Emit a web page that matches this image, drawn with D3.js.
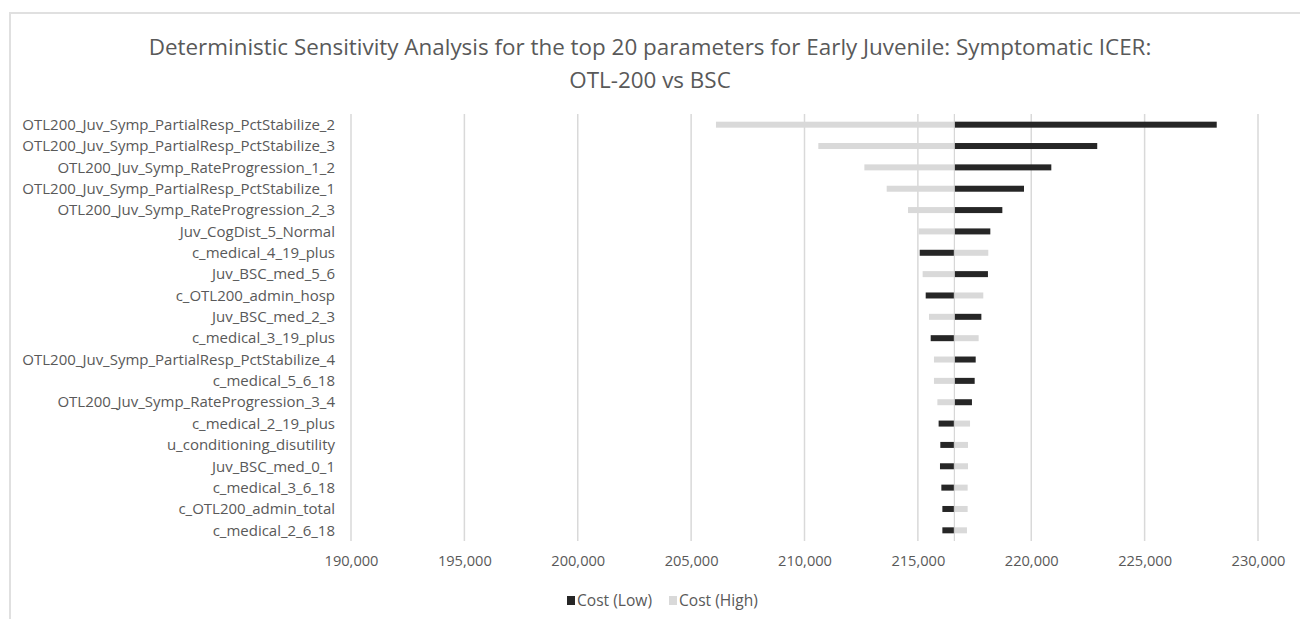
<!DOCTYPE html>
<html><head><meta charset="utf-8">
<script src="https://cdn.jsdelivr.net/npm/d3@7"></script>
<style>body{margin:0;background:#fff}svg{display:block}</style>
</head><body>
<svg id="c" width="1300" height="619"></svg>
<script>
const categories = [
 "OTL200_Juv_Symp_PartialResp_PctStabilize_2",
 "OTL200_Juv_Symp_PartialResp_PctStabilize_3",
 "OTL200_Juv_Symp_RateProgression_1_2",
 "OTL200_Juv_Symp_PartialResp_PctStabilize_1",
 "OTL200_Juv_Symp_RateProgression_2_3",
 "Juv_CogDist_5_Normal",
 "c_medical_4_19_plus",
 "Juv_BSC_med_5_6",
 "c_OTL200_admin_hosp",
 "Juv_BSC_med_2_3",
 "c_medical_3_19_plus",
 "OTL200_Juv_Symp_PartialResp_PctStabilize_4",
 "c_medical_5_6_18",
 "OTL200_Juv_Symp_RateProgression_3_4",
 "c_medical_2_19_plus",
 "u_conditioning_disutility",
 "Juv_BSC_med_0_1",
 "c_medical_3_6_18",
 "c_OTL200_admin_total",
 "c_medical_2_6_18"
];
const baseValue = 216607;
const costLow  = [228180,222910,220885,219680,218725,218195,215080,218090,215345,217800,215565,217550,217505,217385,215915,215990,215975,216035,216080,216080];
const costHigh = [206095,210610,212640,213625,214565,215035,218105,215210,217885,215490,217680,215710,215710,215860,217300,217210,217210,217195,217195,217165];
const xTicks = [190000,195000,200000,205000,210000,215000,220000,225000,230000];
const seriesNames = ["Cost (Low)","Cost (High)"];
const titleLines = ["Deterministic Sensitivity Analysis for the top 20 parameters for Early Juvenile: Symptomatic ICER:","OTL-200 vs BSC"];

const svg = d3.select("#c");
const FONT = "'Open Sans', 'DejaVu Sans', sans-serif";
const dark = "#262626", light = "#d9d9d9", textCol = "#595959";

// border
svg.append("path").attr("d","M10,619 V13 H1300").attr("fill","none").attr("stroke","#e0e0e0").attr("stroke-width",2);

const x = d3.scaleLinear().domain([190000,230000]).range([351,1258]);
const y = d3.scaleBand().domain(categories).range([114,541]).paddingInner(0);
const barH = 6;

function fitSize(sel, target, base){
  const w = sel.node().getComputedTextLength();
  return base*target/w;
}

// gridlines
svg.append("g").selectAll("line").data(xTicks).join("line")
  .attr("x1",d=>x(d)).attr("x2",d=>x(d)).attr("y1",114).attr("y2",541)
  .attr("stroke","#d9d9d9").attr("stroke-width",1.5);

// bars
const g = svg.append("g");
g.selectAll("rect.high").data(categories).join("rect").attr("class","high")
  .attr("x",(d,i)=>Math.min(x(costHigh[i]),x(baseValue)))
  .attr("width",(d,i)=>Math.abs(x(costHigh[i])-x(baseValue)))
  .attr("y",d=>y(d)+y.bandwidth()/2-barH/2).attr("height",barH).attr("fill",light);
g.selectAll("rect.low").data(categories).join("rect").attr("class","low")
  .attr("x",(d,i)=>Math.min(x(costLow[i]),x(baseValue)))
  .attr("width",(d,i)=>Math.abs(x(costLow[i])-x(baseValue)))
  .attr("y",d=>y(d)+y.bandwidth()/2-barH/2).attr("height",barH).attr("fill",dark);

// base axis line
svg.append("line").attr("x1",x(baseValue)).attr("x2",x(baseValue)).attr("y1",114).attr("y2",541)
  .attr("stroke","#cfcfcf").attr("stroke-width",1);

// category labels
const labG = svg.append("g").attr("font-family",FONT).attr("fill",textCol);
const probe = labG.append("text").attr("font-size",13).text(categories[0]);
const labFs = fitSize(probe, 313, 13); probe.remove();
labG.selectAll("text").data(categories).join("text")
  .attr("x",335).attr("y",d=>y(d)+y.bandwidth()/2).attr("dy","0.35em")
  .attr("text-anchor","end").attr("font-size",labFs).text(d=>d);

// x axis tick labels
const xAxis = d3.axisBottom(x).tickValues(xTicks).tickFormat(d3.format(",")).tickSize(0).tickPadding(0);
const ax = svg.append("g").attr("transform","translate(0,561)").call(xAxis);
ax.select(".domain").remove();
ax.selectAll("text").attr("font-family",FONT).attr("fill",textCol).attr("dy","0.35em");
const tp = ax.select("text").attr("font-size",13);
const tickFs = fitSize(tp, 54, 13);
ax.selectAll("text").attr("font-size",tickFs);

// title
const tG = svg.append("g").attr("font-family",FONT).attr("fill",textCol).attr("text-anchor","middle");
const t1 = tG.append("text").attr("x",650).attr("y",47).attr("dy","0.35em").attr("font-size",20).text(titleLines[0]);
const titleFs = fitSize(t1, 1003, 20);
t1.attr("font-size",titleFs);
tG.append("text").attr("x",650).attr("y",80).attr("dy","0.35em").attr("font-size",titleFs).text(titleLines[1]);

// legend
const lg = svg.append("g").attr("font-family",FONT).attr("fill",textCol);
const lp = lg.append("text").attr("font-size",12).text(seriesNames[0]);
const legFs = fitSize(lp, 75, 12); lp.remove();
const legX = [567, 669], legCol = [dark, light];
seriesNames.forEach((n,i)=>{
  lg.append("rect").attr("x",legX[i]).attr("y",596).attr("width",8).attr("height",9).attr("fill",legCol[i]);
  lg.append("text").attr("x",legX[i]+10).attr("y",600.5).attr("dy","0.35em").attr("font-size",legFs).text(n);
});
</script>
</body></html>
